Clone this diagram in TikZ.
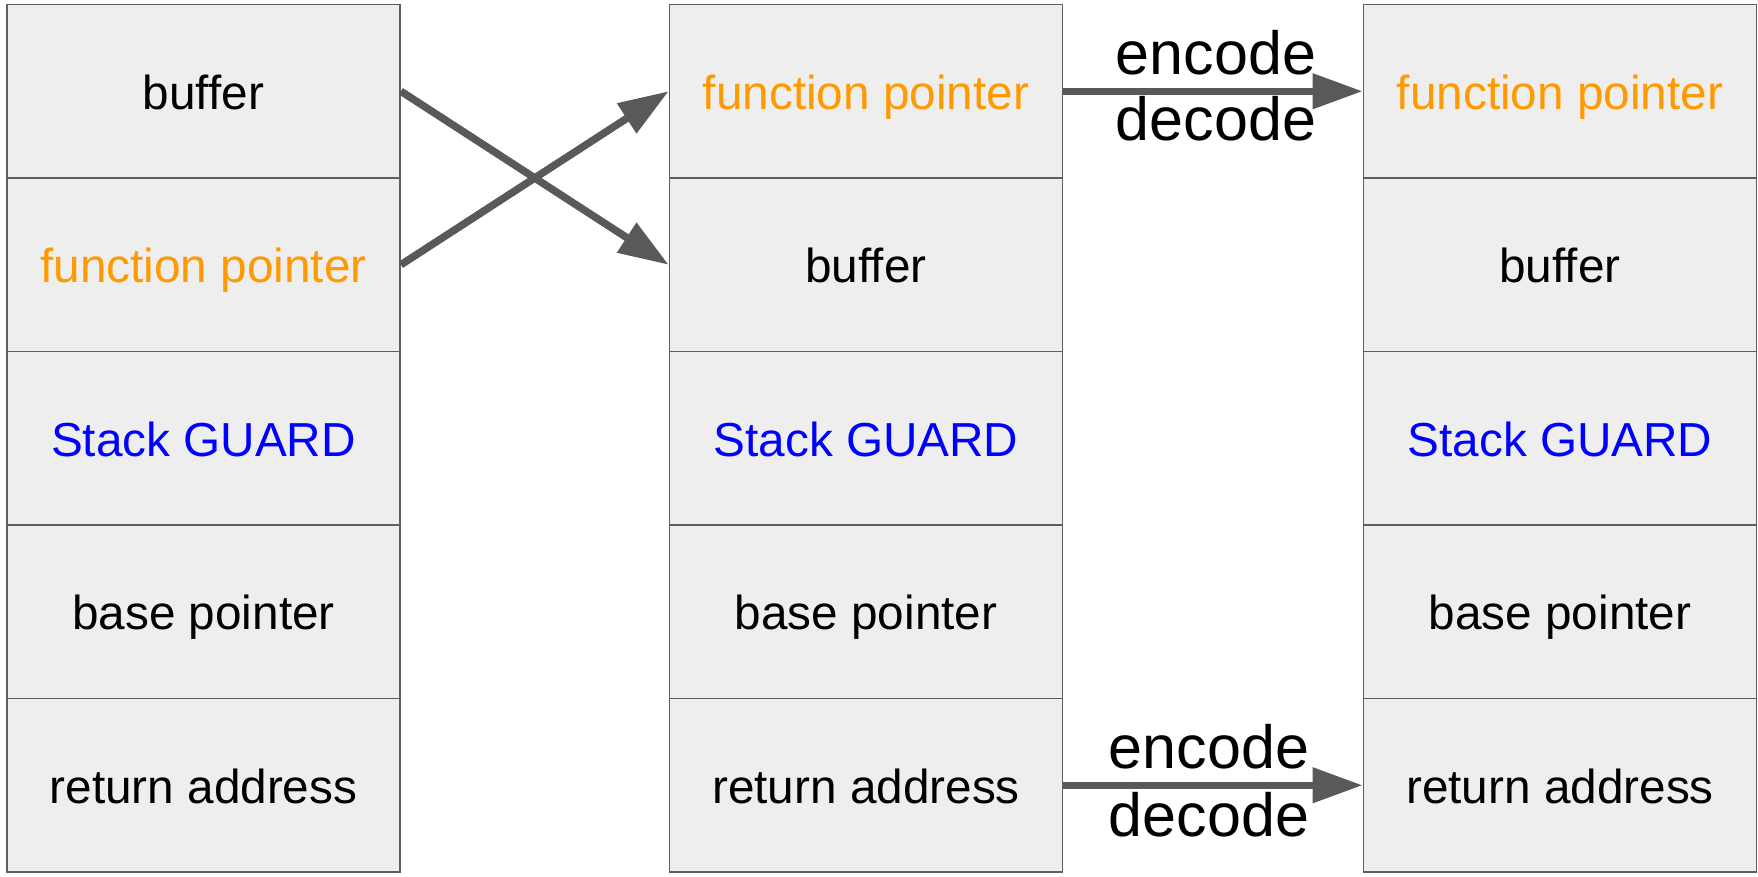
\documentclass[tikz,border=0pt]{standalone}
\usepackage{fontspec}
\setmainfont{Liberation Sans}
\usetikzlibrary{arrows.meta}

\definecolor{cellfill}{HTML}{EEEEEE}
\definecolor{cellline}{HTML}{5F5F5F}
\definecolor{arrowgray}{HTML}{595959}
\definecolor{fporange}{HTML}{FF9900}
\definecolor{guardblue}{HTML}{0000FF}

\tikzset{
  cell/.style={draw=cellline, line width=1.8pt, fill=cellfill,
    minimum width=393pt, minimum height=173.5pt, inner sep=0pt,
    text height=36pt, text depth=0pt,
    font=\fontsize{47.7}{57}\selectfont},
  move/.style={draw=arrowgray, line width=7.5pt,
    -{Triangle[length=50pt,width=34pt]}},
  codelbl/.style={inner sep=0pt, anchor=base, font=\fontsize{61}{70}\selectfont}
}

\begin{document}
\begin{tikzpicture}[x=1pt, y=-1pt]
  \useasboundingbox (0,0) rectangle (1758,876);

  % left stack: original layout
  \node[cell] (L1) at (203.5, 91.25)  {buffer};
  \node[cell, text=fporange] (L2) at (203.5, 264.75) {function pointer};
  \node[cell, text=guardblue] (L3) at (203.5, 438.25) {Stack GUARD};
  \node[cell] (L4) at (203.5, 611.75) {base pointer};
  \node[cell] (L5) at (203.5, 785.25) {return address};

  % middle stack: function pointer moved above the buffer
  \node[cell, text=fporange] (M1) at (866, 91.25)  {function pointer};
  \node[cell] (M2) at (866, 264.75) {buffer};
  \node[cell, text=guardblue] (M3) at (866, 438.25) {Stack GUARD};
  \node[cell] (M4) at (866, 611.75) {base pointer};
  \node[cell] (M5) at (866, 785.25) {return address};

  % right stack: pointers stored encoded
  \node[cell, text=fporange] (R1) at (1560, 91.25)  {function pointer};
  \node[cell] (R2) at (1560, 264.75) {buffer};
  \node[cell, text=guardblue] (R3) at (1560, 438.25) {Stack GUARD};
  \node[cell] (R4) at (1560, 611.75) {base pointer};
  \node[cell] (R5) at (1560, 785.25) {return address};

  % reordering of buffer and function pointer
  \draw[move] (L1.east) -- (M2.west);
  \draw[move] (L2.east) -- (M1.west);

  % encoding of the function pointer
  \draw[move] (M1.east) -- (R1.west);
  \path (M1.east) -- (R1.west)
    node[codelbl, midway, xshift=3pt, yshift=17pt] (enc1) {encode}
    node[codelbl, midway, xshift=3pt, yshift=-49pt] (dec1) {decode};

  % encoding of the return address
  \draw[move] (M5.east) -- (R5.west);
  \path (M5.east) -- (R5.west)
    node[codelbl, midway, xshift=-4pt, yshift=17pt] (enc2) {encode}
    node[codelbl, midway, xshift=-4pt, yshift=-51pt] (dec2) {decode};
\end{tikzpicture}
\end{document}
